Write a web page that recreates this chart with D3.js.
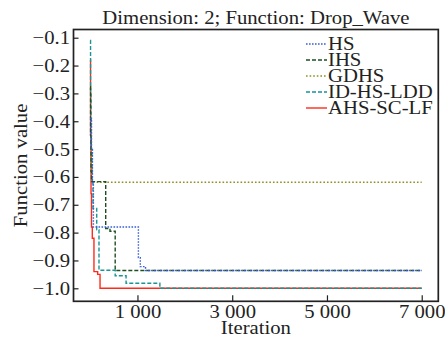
<!DOCTYPE html>
<html><head><meta charset="utf-8">
<script src="https://cdn.jsdelivr.net/npm/d3@7"></script>
<style>
html,body{margin:0;padding:0;background:#fff;}
svg{display:block;font-family:"Liberation Serif","Times New Roman",serif;}
</style></head>
<body><svg id="c" width="445" height="337"></svg>
<script>
// ---- data (iteration, best function value), step-wise convergence ----
const seriesNames = ["HS", "IHS", "GDHS", "ID-HS-LDD", "AHS-SC-LF"];
const dataHS   = [[0,-0.39],[30,-0.50],[50,-0.62],[70,-0.78],[1020,-0.89],[1060,-0.922],[1170,-0.936],[7000,-0.936]];
const dataIHS  = [[0,-0.276],[10,-0.45],[20,-0.58],[30,-0.617],[330,-0.785],[420,-0.795],[530,-0.936],[7000,-0.936]];
const dataGDHS = [[0,-0.50],[20,-0.56],[40,-0.619],[7000,-0.619]];
const dataLDD  = [[0,-0.11],[10,-0.30],[20,-0.50],[40,-0.62],[61,-0.713],[140,-0.79],[188,-0.935],[530,-0.955],[760,-0.982],[1473,-1.0],[7000,-1.0]];
const dataAHS  = [[0,-0.18],[10,-0.45],[20,-0.66],[30,-0.78],[47,-0.82],[82,-0.94],[160,-0.95],[210,-1.0],[7000,-1.0]];
const xTicks = [1000, 3000, 5000, 7000];
const xTickLabels = ["1 000", "3 000", "5 000", "7 000"];
const yTicks = [-0.1,-0.2,-0.3,-0.4,-0.5,-0.6,-0.7,-0.8,-0.9,-1.0];
const xDomain = [-350, 7350];
const yDomain = [-1.0467, -0.0705];

const colors = ["#3b5fd9", "#1d4f22", "#8f8f22", "#1a9494", "#ff2a1a"];
const dashes = ["1.6,1.4", "4,2", "1.6,2", "4,2", null];
const allData = [dataHS, dataIHS, dataGDHS, dataLDD, dataAHS];

const L = 73.5, R = 438.3, T = 29.5, B = 301.3;
const FS = 18.5, SX = 1.12;

const svg = d3.select("#c");
const x = d3.scaleLinear().domain(xDomain).range([L, R]);
const y = d3.scaleLinear().domain(yDomain).range([B, T]);

// lines (drawn in reverse order so red sits underneath)
const line = d3.line().x(d => x(d[0])).y(d => y(d[1])).curve(d3.curveStepAfter);
const clip = svg.append("clipPath").attr("id","pc").append("rect")
  .attr("x", L).attr("y", T).attr("width", R-L).attr("height", B-T);
const gl = svg.append("g").attr("clip-path","url(#pc)");
[4,3,2,1,0].forEach(i => {
  gl.append("path").datum(allData[i]).attr("d", line)
    .attr("fill","none").attr("stroke", colors[i]).attr("stroke-width", 1.4)
    .attr("stroke-dasharray", dashes[i]);
});

// axes
const yAxis = d3.axisLeft(y).tickValues(yTicks).tickFormat(d3.format(".1f"))
  .tickSizeInner(-5).tickSizeOuter(0).tickPadding(3);
const xAxis = d3.axisBottom(x).tickValues(xTicks).tickFormat((d,i) => xTickLabels[i])
  .tickSizeInner(-6).tickSizeOuter(0).tickPadding(4);
const gy = svg.append("g").attr("transform", `translate(${L},0)`).call(yAxis);
const gx = svg.append("g").attr("transform", `translate(0,${B})`).call(xAxis);
[gx, gy].forEach(g => {
  g.select(".domain").remove();
  g.selectAll(".tick line").attr("stroke","#222").attr("stroke-width",1.2);
  g.selectAll(".tick text").attr("font-size", FS).attr("fill","#222")
    .attr("font-family","Liberation Serif, Times New Roman, serif")
    .attr("transform", `scale(${SX},1)`);
});

// frame
svg.append("rect").attr("x", L).attr("y", T).attr("width", R-L).attr("height", B-T)
  .attr("fill","none").attr("stroke","#222").attr("stroke-width",1.7);

function label(txt, tx, ty, anchor, rot) {
  return svg.append("text").text(txt).attr("font-size", FS).attr("fill","#222")
    .attr("text-anchor", anchor)
    .attr("transform", `translate(${tx},${ty})` + (rot ? ` rotate(${rot})` : "") + ` scale(${SX},1)`);
}
const cx = (L + R) / 2;
label("Dimension: 2; Function: Drop_Wave", cx, 24, "middle");
label("Iteration", cx, 334, "middle");
label("Function value", 27, (T + B) / 2, "middle", -90);

// legend
const lg = svg.append("g");
seriesNames.forEach((n, i) => {
  const yy = 44 + i * 16;
  lg.append("line").attr("x1", 306).attr("x2", 327).attr("y1", yy).attr("y2", yy)
    .attr("stroke", colors[i]).attr("stroke-width", 1.4).attr("stroke-dasharray", dashes[i]);
  lg.append("text").text(n).attr("font-size", FS).attr("fill","#222")
    .attr("transform", `translate(328,${yy + 6}) scale(${SX},1)`);
});
</script></body></html>
